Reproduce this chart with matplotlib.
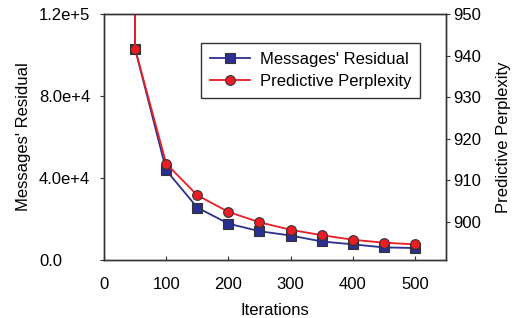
import matplotlib
matplotlib.use('Agg')
import matplotlib.pyplot as plt

plt.rcParams['font.family'] = ['Liberation Sans', 'DejaVu Sans']

# iterations; the first point sits above the axes and is clipped
iterations = [50, 50, 100, 150, 200, 250, 300, 350, 400, 450, 500]
residual = [2.0e5, 1.03e5, 43.8e3, 25.6e3, 17.8e3, 14.1e3, 12.0e3, 9.1e3, 7.7e3, 6.2e3, 5.9e3]
perplexity = [990, 941.6, 914.0, 906.4, 902.4, 899.9, 898.1, 896.8, 895.7, 895.0, 894.6]

left_ticks = [0, 4e4, 8e4, 1.2e5]
left_labels = ['0.0', '4.0e+4', '8.0e+4', '1.2e+5']
right_ticks = [900, 910, 920, 930, 940, 950]
x_ticks = [0, 100, 200, 300, 400, 500]

blue = '#2b2f8f'
red = '#ec1c24'
edge = '#333333'
fs = 12

fig = plt.figure(figsize=(5.15, 3.18), dpi=100)
ax = fig.add_axes([0.202, 0.182, 0.664, 0.774])
ax2 = ax.twinx()

l1, = ax.plot(iterations[1:], residual[1:], color=blue, lw=1.3, marker='s',
              ms=6.5, mfc=blue, mec=edge, mew=0.8, label="Messages' Residual")
ax.plot(iterations[:2], residual[:2], color=blue, lw=1.3)
l2, = ax2.plot(iterations[1:], perplexity[1:], color=red, lw=1.3, marker='o',
               ms=7, mfc=red, mec=edge, mew=0.8, label='Predictive Perplexity')
ax2.plot(iterations[:2], perplexity[:2], color=red, lw=1.3)

ax.set_xlim(0, 550)
ax.set_ylim(0, 1.2e5)
ax2.set_ylim(890.8, 950)
ax.set_xticks(x_ticks)
ax.set_yticks(left_ticks)
ax.set_yticklabels(left_labels, ha='left')
ax2.set_yticks(right_ticks)

ax.tick_params(axis='x', direction='in', length=3, labelsize=fs, pad=12, color=edge)
ax.tick_params(axis='y', direction='out', length=3, labelsize=fs, pad=43.8, color=edge)
ax2.tick_params(axis='y', direction='out', length=3, labelsize=fs, pad=2, color=edge)

for a in (ax, ax2):
    for s in a.spines.values():
        s.set_color(edge)
        s.set_linewidth(1.0)

ax.set_xlabel('Iterations', fontsize=fs, labelpad=8)
ax.set_ylabel("Messages' Residual", fontsize=fs, labelpad=6)
ax2.set_ylabel('Predictive Perplexity', fontsize=fs, labelpad=11)

leg = ax2.legend(handles=[l1, l2], loc='upper right', bbox_to_anchor=(0.924, 0.882),
                 fontsize=fs, fancybox=False, edgecolor=edge, framealpha=1,
                 borderpad=0.52, handlelength=2.4, handletextpad=0.6,
                 labelspacing=0.45, borderaxespad=0)
leg.get_frame().set_linewidth(1.0)

fig.savefig('out.png', dpi=100)
